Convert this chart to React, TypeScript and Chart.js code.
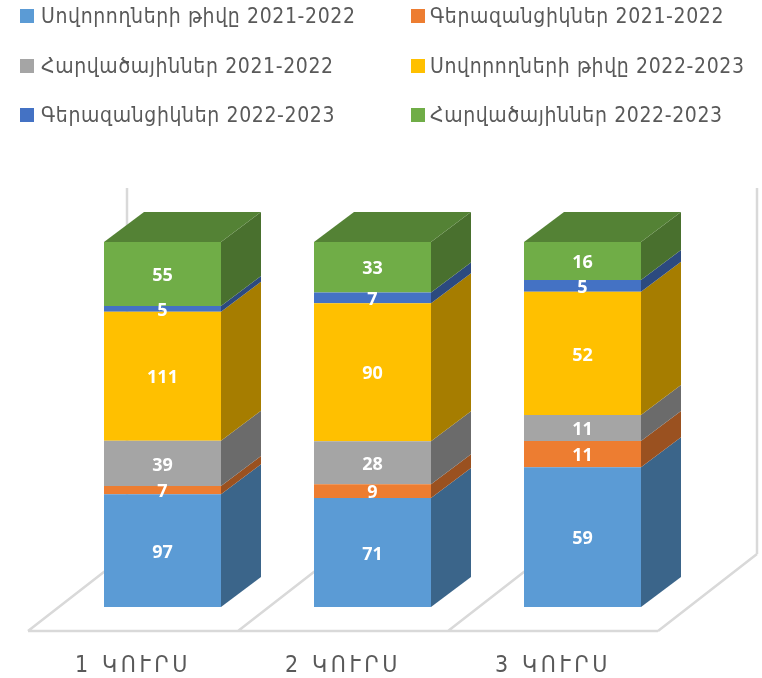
import React, { useEffect, useRef } from "react";
import { Chart, registerables } from "chart.js";

Chart.register(...registerables);

const categories = ["1 ԿՈՒՐՍ", "2 ԿՈՒՐՍ", "3 ԿՈՒՐՍ"];
const seriesNames = [
  "Սովորողների թիվը 2021-2022",
  "Գերազանցիկներ 2021-2022",
  "Հարվածայիններ 2021-2022",
  "Սովորողների թիվը 2022-2023",
  "Գերազանցիկներ 2022-2023",
  "Հարվածայիններ 2022-2023",
];
const students2122 = [97, 71, 59];
const excellent2122 = [7, 9, 11];
const strikers2122 = [39, 28, 11];
const students2223 = [111, 90, 52];
const excellent2223 = [5, 7, 5];
const strikers2223 = [55, 33, 16];
const seriesValues = [students2122, excellent2122, strikers2122, students2223, excellent2223, strikers2223];
const colors = ["#5B9BD5", "#ED7D31", "#A5A5A5", "#FFC000", "#4472C4", "#70AD47"];

const DX = 40;
const DY = 30;
const FONT = '"DejaVu Sans Condensed", "DejaVu Sans", sans-serif';

const totals = categories.map((_, i) => seriesValues.reduce((s, a) => s + a[i], 0));

function shade(hex: string, f: number) {
  const n = parseInt(hex.slice(1), 16);
  const c = [(n >> 16) & 255, (n >> 8) & 255, n & 255].map((v) => Math.round(v * f));
  return `rgb(${c[0]},${c[1]},${c[2]})`;
}

const floorPlugin = {
  id: "floor3d",
  beforeDraw(chart: any) {
    chart.ctx.letterSpacing = "3.6px";
  },
  beforeDatasetsDraw(chart: any) {
    const { ctx, chartArea, scales } = chart;
    const bandW = scales.x.getPixelForValue(1) - scales.x.getPixelForValue(0);
    const frontY = chartArea.bottom + 24;
    const backY = frontY - 77;
    const floorLeft = chartArea.left - 29.5;
    const skew = 99;
    const wallTop = 188;
    ctx.save();
    ctx.strokeStyle = "#D9D9D9";
    ctx.lineWidth = 2.5;
    ctx.beginPath();
    ctx.moveTo(floorLeft, frontY);
    ctx.lineTo(floorLeft + bandW * categories.length, frontY);
    for (let i = 0; i <= categories.length; i++) {
      const x = floorLeft + bandW * i;
      ctx.moveTo(x, frontY);
      ctx.lineTo(x + skew, backY);
    }
    ctx.moveTo(floorLeft + skew, backY);
    ctx.lineTo(floorLeft + skew, wallTop);
    const rx = floorLeft + bandW * categories.length + skew;
    ctx.moveTo(rx, backY);
    ctx.lineTo(rx, wallTop);
    ctx.stroke();
    ctx.restore();
  },
};

const blockPlugin = {
  id: "block3d",
  afterDatasetsDraw(chart: any) {
    const { ctx } = chart;
    ctx.save();
    ctx.letterSpacing = "0px";
    chart.data.datasets.forEach((_: any, d: number) => {
      chart.getDatasetMeta(d).data.forEach((bar: any) => {
        const { x, y, base, width } = bar.getProps(["x", "y", "base", "width"], true);
        const r = x + width / 2;
        ctx.fillStyle = shade(colors[d], 0.65);
        ctx.beginPath();
        ctx.moveTo(r, base);
        ctx.lineTo(r + DX, base - DY);
        ctx.lineTo(r + DX, y - DY);
        ctx.lineTo(r, y);
        ctx.closePath();
        ctx.fill();
        if (d === chart.data.datasets.length - 1) {
          const l = x - width / 2;
          ctx.fillStyle = shade(colors[d], 0.75);
          ctx.beginPath();
          ctx.moveTo(l, y);
          ctx.lineTo(l + DX, y - DY);
          ctx.lineTo(r + DX, y - DY);
          ctx.lineTo(r, y);
          ctx.closePath();
          ctx.fill();
        }
      });
    });
    ctx.fillStyle = "#FFFFFF";
    ctx.font = 'bold 18px "Noto Sans", sans-serif';
    ctx.textAlign = "center";
    ctx.textBaseline = "middle";
    chart.data.datasets.forEach((_: any, d: number) => {
      chart.getDatasetMeta(d).data.forEach((bar: any, i: number) => {
        const { x, y, base } = bar.getProps(["x", "y", "base"], true);
        ctx.fillText(String(seriesValues[d][i]), x, (y + base) / 2 + 2);
      });
    });
    ctx.restore();
  },
};

const legendSpots = [
  [20, 0, 7], [411, 0, 5], [20, 50, 7], [411, 50, 5], [20, 99, 7], [411, 99, 5],
];

export default function App() {
  const ref = useRef<HTMLCanvasElement>(null);
  useEffect(() => {
    const chart = new Chart(ref.current!, {
      type: "bar",
      data: {
        labels: categories,
        datasets: seriesNames.map((label, d) => ({
          label,
          data: seriesValues[d].map((v, i) => (v / totals[i]) * 100),
          backgroundColor: colors[d],
          categoryPercentage: 1,
          barPercentage: 117 / 210,
        })),
      },
      options: {
        responsive: false,
        animation: false,
        layout: { padding: { left: 57.5, right: 74.5, top: 242, bottom: 0 } },
        plugins: { legend: { display: false }, tooltip: { enabled: false } },
        scales: {
          x: {
            stacked: true,
            grid: { display: false },
            border: { display: false },
            afterFit: (s: any) => { s.height = 71; },
            ticks: {
              color: "#595959",
              font: { family: FONT, size: 23 },
              padding: 37,
              labelOffset: -29.5,
              maxRotation: 0,
              autoSkip: false,
            },
          },
          y: { stacked: true, display: false, min: 0, max: 100 },
        },
      },
      plugins: [floorPlugin, blockPlugin],
    });
    return () => chart.destroy();
  }, []);
  return (
    <div style={{ position: "absolute", left: 0, top: 0, width: 762, height: 678, background: "#fff" }}>
      <canvas ref={ref} width={762} height={678} style={{ display: "block" }} />
      {seriesNames.map((name, d) => (
        <div
          key={name}
          style={{
            position: "absolute",
            left: legendSpots[d][0],
            top: legendSpots[d][1],
            height: 32,
            display: "flex",
            alignItems: "center",
            whiteSpace: "nowrap",
            font: `21px ${FONT}`,
            letterSpacing: "0.62px",
            color: "#595959",
          }}
        >
          <span style={{ width: 14, height: 14, background: colors[d], marginRight: legendSpots[d][2] }} />
          {name}
        </div>
      ))}
    </div>
  );
}
